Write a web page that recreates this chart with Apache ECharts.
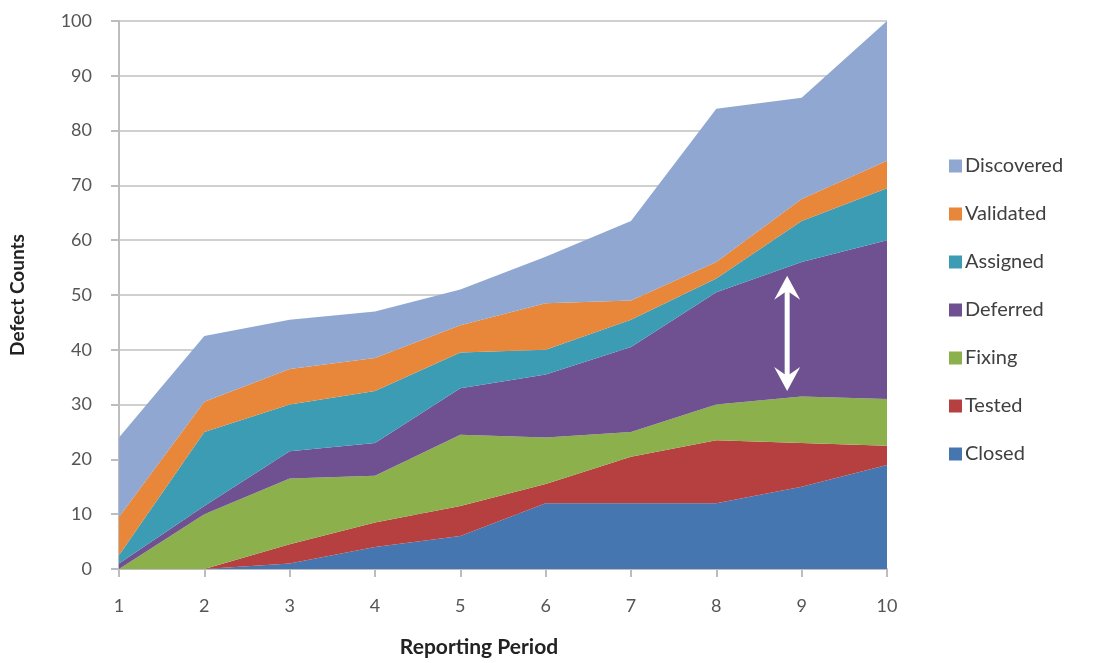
<!DOCTYPE html>
<html>
<head>
<meta charset="utf-8">
<script src="https://cdn.jsdelivr.net/npm/echarts@6/dist/echarts.min.js"></script>
<style>html,body{margin:0;padding:0;background:#fff}#c{width:1097px;height:663px}</style>
</head>
<body>
<div id="c"></div>
<script>
const periods = ['1', '2', '3', '4', '5', '6', '7', '8', '9', '10'];
const closed     = [0, 0, 1, 4, 6, 12, 12, 12, 15, 19];
const tested     = [0, 0, 3.5, 4.5, 5.5, 3.5, 8.5, 11.5, 8, 3.5];
const fixing     = [0, 10, 12, 8.5, 13, 8.5, 4.5, 6.5, 8.5, 8.5];
const deferred   = [1, 1.5, 5, 6, 8.5, 11.5, 15.5, 20.5, 24.5, 29];
const assigned   = [1.5, 13.5, 8.5, 9.5, 6.5, 4.5, 5, 2.5, 7.5, 9.5];
const validated  = [7, 5.5, 6.5, 6, 5, 8.5, 3.5, 3, 4, 5];
const discovered = [14.5, 12, 9, 8.5, 6.5, 8.5, 14.5, 28, 18.5, 25.5];
const legendOrder = ['Discovered', 'Validated', 'Assigned', 'Deferred', 'Fixing', 'Tested', 'Closed'];
// arrow annotation: [category index, top value, bottom value, fraction toward next category]
const arrowData = [[7, 53.5, 32.5, 0.83]];

const FONT = 'Lato, "Open Sans", sans-serif';
const stackDefs = [
  ['Closed', closed, '#4676b0'],
  ['Tested', tested, '#b5403f'],
  ['Fixing', fixing, '#8cb04b'],
  ['Deferred', deferred, '#6f5192'],
  ['Assigned', assigned, '#3c9cb4'],
  ['Validated', validated, '#e8873a'],
  ['Discovered', discovered, '#8fa7d1']
];

const series = stackDefs.map(([name, vals, color]) => ({
  name: name,
  type: 'line',
  stack: 'total',
  symbol: 'none',
  lineStyle: { width: 0 },
  itemStyle: { color: color },
  areaStyle: { color: color, opacity: 1 },
  data: vals,
  z: 2
}));

series.push({
  name: 'arrow',
  type: 'custom',
  silent: true,
  z: 10,
  encode: { x: 0, y: [1, 2] },
  data: arrowData,
  renderItem: function (params, api) {
    const i = api.value(0), vt = api.value(1), vb = api.value(2), f = api.value(3);
    const a = api.coord([i, vt]), b = api.coord([i + 1, vt]);
    const c = api.coord([i, vb]);
    const ax = a[0] + (b[0] - a[0]) * f;
    const yTop = a[1], yBot = c[1];
    return {
      type: 'group',
      children: [
        { type: 'line', shape: { x1: ax, y1: yTop + 10, x2: ax, y2: yBot - 10 }, style: { stroke: '#ffffff', lineWidth: 5 } },
        { type: 'polygon', shape: { points: [[ax, yTop], [ax - 13, yTop + 24], [ax, yTop + 15], [ax + 13, yTop + 24]] }, style: { fill: '#ffffff' } },
        { type: 'polygon', shape: { points: [[ax, yBot], [ax - 13, yBot - 24], [ax, yBot - 15], [ax + 13, yBot - 24]] }, style: { fill: '#ffffff' } }
      ]
    };
  }
});

const chart = echarts.init(document.getElementById('c'));
chart.setOption({
  animation: false,
  backgroundColor: '#ffffff',
  grid: { left: 116, right: 210, top: 21, bottom: 91, containLabel: false },
  legend: {
    data: legendOrder,
    orient: 'vertical',
    left: 944,
    top: 151,
    icon: 'rect',
    itemWidth: 13,
    itemHeight: 13,
    itemGap: 28,
    textStyle: { fontFamily: FONT, fontSize: 20, color: '#404040', padding: [0, 0, 0, -2] }
  },
  xAxis: {
    type: 'category',
    data: periods,
    boundaryGap: false,
    name: 'Reporting Period',
    nameLocation: 'middle',
    nameGap: 68,
    nameTextStyle: { fontFamily: FONT, fontSize: 21, fontWeight: 'bold', color: '#222', padding: [0, 48, 0, 0] },
    axisLine: { show: true, lineStyle: { color: '#bdbdbd', width: 2 } },
    axisTick: { show: true, length: 8, alignWithLabel: true, lineStyle: { color: '#bdbdbd', width: 2 } },
    axisLabel: { fontFamily: FONT, fontSize: 18, color: '#555', margin: 28 },
    splitLine: { show: false }
  },
  yAxis: {
    type: 'value',
    min: 0,
    max: 100,
    interval: 10,
    name: 'Defect Counts',
    nameLocation: 'middle',
    nameGap: 92,
    nameTextStyle: { fontFamily: FONT, fontSize: 19, fontWeight: 'bold', color: '#222' },
    axisLine: { show: true, lineStyle: { color: '#bdbdbd', width: 2 } },
    axisTick: { show: true, length: 8, lineStyle: { color: '#bdbdbd', width: 2 } },
    axisLabel: { fontFamily: FONT, fontSize: 18, color: '#555', margin: 27 },
    splitLine: { show: true, lineStyle: { color: '#d0d0d0', width: 2 } }
  },
  series: series
});
</script>
</body>
</html>
